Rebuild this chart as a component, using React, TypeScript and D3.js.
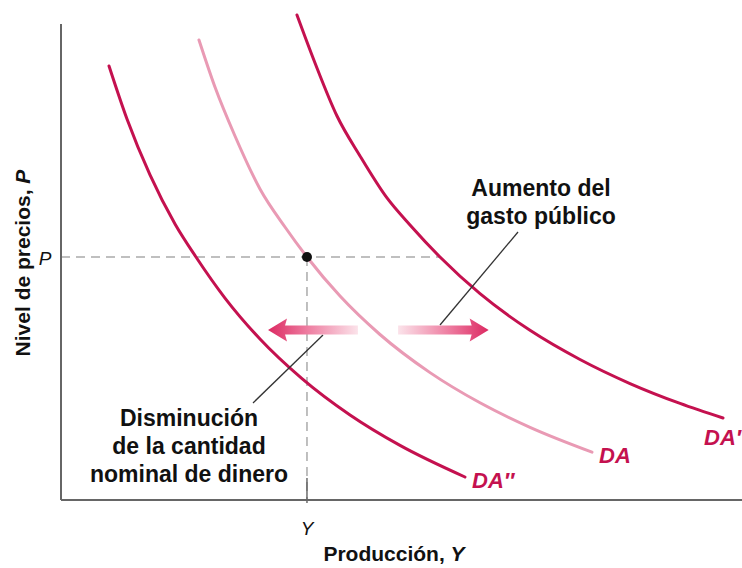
import React from "react";
import * as d3 from "d3";

// Data (abstract units: x = output Y, y = price level P, both 0..100)
const daDoublePrimeX = [7.05, 9.69, 13.07, 16.74, 19.82, 24.08, 29.22, 35.39, 42.44, 49.78, 59.32];
const daDoublePrimeY = [91.18, 80.04, 68.28, 57.98, 51.05, 42.42, 33.82, 25.5, 17.86, 11.47, 4.83];
const daX = [20.26, 22.61, 25.55, 29.22, 32.89, 36.12, 40.97, 46.84, 54.19, 61.53, 68.87, 77.97];
const daY = [96.64, 86.76, 76.47, 65.34, 57.35, 51.05, 42.84, 34.77, 26.76, 20.42, 15.27, 10.06];
const daPrimeX = [34.65, 37.3, 40.53, 43.91, 47.87, 51.25, 55.65, 61.53, 68.87, 76.21, 83.55, 90.9, 97.21];
const daPrimeY = [101.89, 91.81, 80.67, 72.27, 63.45, 57.77, 51.05, 43.34, 35.65, 29.52, 24.47, 20.29, 17.23];
const equilibrium = { x: 36.12, y: 51.05 };
const dashEndX = 55.65;
const arrowY = 35.7;
const leftArrow = { tail: 43.6, tip: 30.4 };
const rightArrow = { tail: 49.5, tip: 62.8 };
const curveLabels = ["DA″", "DA", "DA′"];
const axisTitleX = "Producción, ";
const axisTitleY = "Nivel de precios, ";
const noteRight = ["Aumento del", "gasto público"];
const noteLeft = ["Disminución", "de la cantidad", "nominal de dinero"];

const W = 742;
const H = 568;
const FONT = "'Liberation Sans', Arial, Helvetica, sans-serif";
const DARK = "#c4114f";
const LIGHT = "#e99ab4";

export default function App() {
  const x = d3.scaleLinear().domain([0, 100]).range([61, 742]);
  const y = d3.scaleLinear().domain([0, 100]).range([500, 24]);
  const line = d3
    .line<[number, number]>()
    .x((d) => x(d[0]))
    .y((d) => y(d[1]))
    .curve(d3.curveMonotoneX);
  const zip = (a: number[], b: number[]) => a.map((v, i) => [v, b[i]] as [number, number]);

  const ex = x(equilibrium.x);
  const ey = y(equilibrium.y);
  const ay = y(arrowY);

  const arrowPath = (tail: number, tip: number) => {
    const tx = x(tail);
    const px = x(tip);
    const dir = px > tx ? 1 : -1;
    const base = px - dir * 17;
    const sh = 4.5;
    const hh = 11.5;
    return `M${tx},${ay - sh} L${base},${ay - sh} L${base - dir * 2},${ay - hh} L${px},${ay} L${base - dir * 2},${ay + hh} L${base},${ay + sh} L${tx},${ay + sh} Z`;
  };

  return (
    <svg
      width={W}
      height={H}
      style={{ position: "absolute", left: 0, top: 0, background: "#fff" }}
      fontFamily={FONT}
    >
      <defs>
        <linearGradient id="gl" x1={x(leftArrow.tail)} x2={x(leftArrow.tip)} y1={0} y2={0} gradientUnits="userSpaceOnUse">
          <stop offset="0" stopColor="#fbe3ea" />
          <stop offset="0.55" stopColor="#ee7fa2" />
          <stop offset="1" stopColor="#dc2a62" />
        </linearGradient>
        <linearGradient id="gr" x1={x(rightArrow.tail)} x2={x(rightArrow.tip)} y1={0} y2={0} gradientUnits="userSpaceOnUse">
          <stop offset="0" stopColor="#fbe3ea" />
          <stop offset="0.55" stopColor="#ee7fa2" />
          <stop offset="1" stopColor="#dc2a62" />
        </linearGradient>
      </defs>

      {/* dashed guides */}
      <line x1={x(0)} x2={x(dashEndX)} y1={ey} y2={ey} stroke="#aaa" strokeWidth={1.5} strokeDasharray="9,6" />
      <line x1={ex} x2={ex} y1={ey} y2={y(0)} stroke="#aaa" strokeWidth={1.5} strokeDasharray="9,6" />
      <line x1={ex} x2={ex} y1={y(0) - 22} y2={y(0) + 3} stroke="#555" strokeWidth={1.3} />

      {/* axes */}
      <line x1={x(0)} x2={x(0)} y1={y(100)} y2={y(0)} stroke="#666" strokeWidth={2} />
      <line x1={x(0)} x2={x(100)} y1={y(0)} y2={y(0)} stroke="#666" strokeWidth={2} />

      {/* curves */}
      <path d={line(zip(daX, daY)) || ""} fill="none" stroke={LIGHT} strokeWidth={3} strokeLinecap="round" />
      <path d={line(zip(daDoublePrimeX, daDoublePrimeY)) || ""} fill="none" stroke={DARK} strokeWidth={3} strokeLinecap="round" />
      <path d={line(zip(daPrimeX, daPrimeY)) || ""} fill="none" stroke={DARK} strokeWidth={3} strokeLinecap="round" />

      {/* leader lines */}
      <line x1={518} y1={232} x2={440} y2={325} stroke="#333" strokeWidth={1.3} />
      <line x1={323} y1={335} x2={253} y2={403} stroke="#333" strokeWidth={1.3} />

      {/* arrows */}
      <path d={arrowPath(leftArrow.tail, leftArrow.tip)} fill="url(#gl)" />
      <path d={arrowPath(rightArrow.tail, rightArrow.tip)} fill="url(#gr)" />

      {/* equilibrium point */}
      <circle cx={ex} cy={ey} r={5} fill="#111" />

      {/* curve labels */}
      <text x={472} y={488} fill={DARK} fontSize={22} fontWeight="bold" fontStyle="italic">{curveLabels[0]}</text>
      <text x={599} y={463} fill={DARK} fontSize={22} fontWeight="bold" fontStyle="italic">{curveLabels[1]}</text>
      <text x={704} y={445} fill={DARK} fontSize={22} fontWeight="bold" fontStyle="italic">{curveLabels[2]}</text>

      {/* annotations */}
      {noteRight.map((t, i) => (
        <text key={t} x={541} y={196 + i * 28} textAnchor="middle" fontSize={23} fontWeight="bold" fill="#111">{t}</text>
      ))}
      {noteLeft.map((t, i) => (
        <text key={t} x={189} y={426 + i * 28} textAnchor="middle" fontSize={23} fontWeight="bold" fill="#111">{t}</text>
      ))}

      {/* axis labels */}
      <text x={45} y={265} textAnchor="middle" fontSize={19} fontStyle="italic" fill="#111">P</text>
      <text x={307} y={535} textAnchor="middle" fontSize={19} fontStyle="italic" fill="#111">Y</text>
      <text x={394} y={561} textAnchor="middle" fontSize={21} fontWeight="bold" fill="#111">
        {axisTitleX}<tspan fontStyle="italic">Y</tspan>
      </text>
      <text transform="translate(30,263) rotate(-90)" textAnchor="middle" fontSize={21} fontWeight="bold" fill="#111">
        {axisTitleY}<tspan fontStyle="italic">P</tspan>
      </text>
    </svg>
  );
}
